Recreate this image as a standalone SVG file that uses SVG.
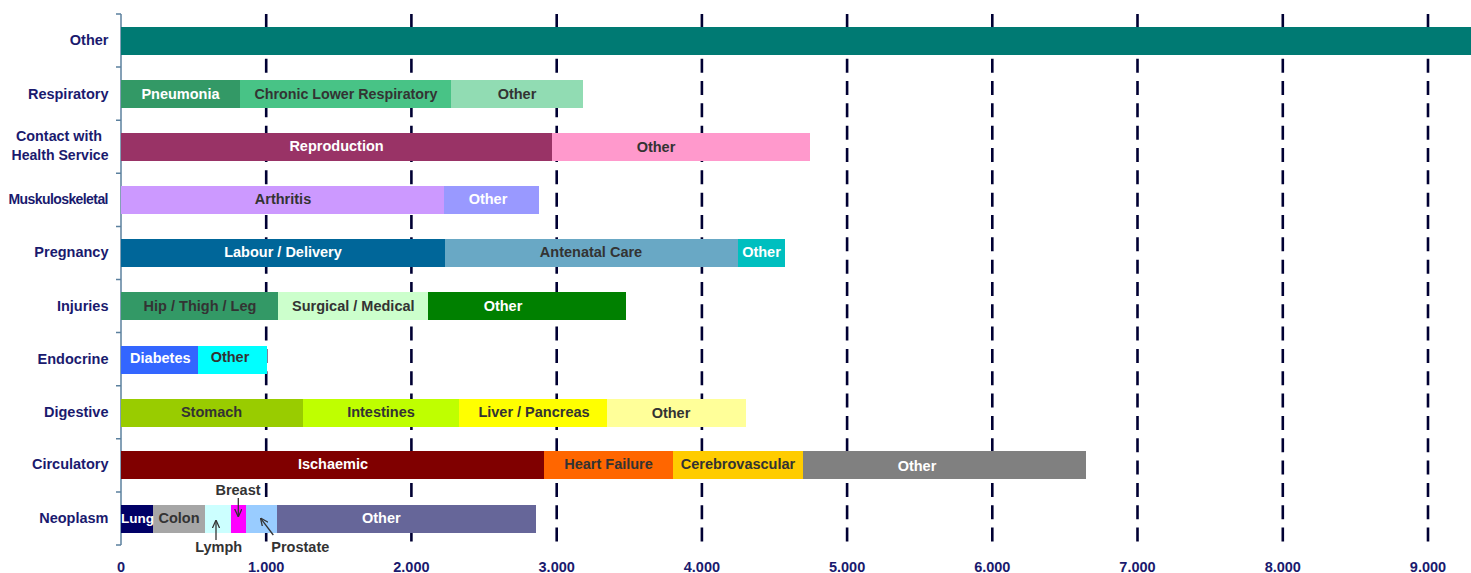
<svg xmlns="http://www.w3.org/2000/svg" width="1471" height="573" viewBox="0 0 1471 573">
<defs>
<style>
text{font-family:"Liberation Sans",Arial,sans-serif;font-weight:bold;font-size:14.5px}
.cat{fill:#1a1a6e;text-anchor:end}
.catm{fill:#1a1a6e;text-anchor:middle}
.ax{fill:#1a1a6e;text-anchor:middle}
.w{fill:#ffffff;text-anchor:middle}
.d{fill:#333333;text-anchor:middle}
.an{fill:#333333;text-anchor:middle}
.grid{stroke:#000033;stroke-width:2.6;stroke-dasharray:14 8.33;fill:none}
.axis{stroke:#5b809e;stroke-width:1.5;fill:none}
.arrow{stroke:#333333;stroke-width:1.3;fill:none;marker-end:url(#ah)}
</style>
<marker id="ah" viewBox="0 0 10 10" refX="9.5" refY="5" markerWidth="8" markerHeight="8" markerUnits="userSpaceOnUse" orient="auto">
<path d="M0,0.5 L10,5 L0,9.5" fill="none" stroke="#333333" stroke-width="1.6"/>
</marker>
</defs>
<rect width="1471" height="573" fill="#ffffff"/>
<g id="gridlines">
<line class="grid" x1="266.2" y1="14" x2="266.2" y2="545"/>
<line class="grid" x1="411.4" y1="14" x2="411.4" y2="545"/>
<line class="grid" x1="556.7" y1="14" x2="556.7" y2="545"/>
<line class="grid" x1="701.9" y1="14" x2="701.9" y2="545"/>
<line class="grid" x1="847.1" y1="14" x2="847.1" y2="545"/>
<line class="grid" x1="992.3" y1="14" x2="992.3" y2="545"/>
<line class="grid" x1="1137.5" y1="14" x2="1137.5" y2="545"/>
<line class="grid" x1="1282.8" y1="14" x2="1282.8" y2="545"/>
<line class="grid" x1="1428" y1="14" x2="1428" y2="545"/>
</g>
<g id="axis">
<line class="axis" x1="121" y1="14" x2="121" y2="545"/>
<path class="axis" d="M116,14H121M116,67.1H121M116,120.2H121M116,173.3H121M116,226.4H121M116,279.5H121M116,332.6H121M116,385.7H121M116,438.8H121M116,491.9H121M116,545H121"/>
<text class="ax" x="121" y="571.5">0</text>
<text class="ax" x="266.2" y="571.5">1.000</text>
<text class="ax" x="411.4" y="571.5">2.000</text>
<text class="ax" x="556.7" y="571.5">3.000</text>
<text class="ax" x="701.9" y="571.5">4.000</text>
<text class="ax" x="847.1" y="571.5">5.000</text>
<text class="ax" x="992.3" y="571.5">6.000</text>
<text class="ax" x="1137.5" y="571.5">7.000</text>
<text class="ax" x="1282.8" y="571.5">8.000</text>
<text class="ax" x="1428" y="571.5">9.000</text>
</g>
<g id="row-other">
<text class="cat" x="108.5" y="45">Other</text>
<rect x="121" y="27" width="1350" height="28" fill="#007a73"/>
</g>
<g id="row-respiratory">
<text class="cat" x="108.5" y="98.5">Respiratory</text>
<rect x="121" y="80" width="119" height="28" fill="#339966"/>
<rect x="240" y="80" width="211" height="28" fill="#48c386"/>
<rect x="451" y="80" width="132" height="28" fill="#91dcb3"/>
<text class="w" x="180.5" y="98.5">Pneumonia</text>
<text class="d" x="346" y="98.5" textLength="183" lengthAdjust="spacingAndGlyphs">Chronic Lower Respiratory</text>
<text class="d" x="517" y="98.5">Other</text>
</g>
<g id="row-contact">
<text class="catm" x="59" y="140.7" textLength="86" lengthAdjust="spacingAndGlyphs">Contact with</text>
<text class="catm" x="60" y="160.2" textLength="97" lengthAdjust="spacingAndGlyphs">Health Service</text>
<rect x="121" y="133" width="431" height="28" fill="#993366"/>
<rect x="552" y="133" width="258" height="28" fill="#ff99cc"/>
<text class="w" x="336.5" y="151">Reproduction</text>
<text class="d" x="656" y="152.3">Other</text>
</g>
<g id="row-musculoskeletal">
<text class="cat" x="108.5" y="204" style="font-size:14px" textLength="100" lengthAdjust="spacing">Muskuloskeletal</text>
<rect x="121" y="186" width="323" height="28" fill="#cc99ff"/>
<rect x="444" y="186" width="95" height="28" fill="#9999ff"/>
<text class="d" x="283" y="204">Arthritis</text>
<text class="w" x="488" y="204">Other</text>
</g>
<g id="row-pregnancy">
<text class="cat" x="108.5" y="257">Pregnancy</text>
<rect x="121" y="239" width="324" height="28" fill="#006699"/>
<rect x="445" y="239" width="293" height="28" fill="#69a8c5"/>
<rect x="738" y="239" width="47" height="28" fill="#00bfbf"/>
<text class="w" x="283" y="257">Labour / Delivery</text>
<text class="d" x="591" y="256.7">Antenatal Care</text>
<text class="w" x="761.5" y="257.3">Other</text>
</g>
<g id="row-injuries">
<text class="cat" x="108.5" y="310.5">Injuries</text>
<rect x="121" y="292" width="157" height="28" fill="#339966"/>
<rect x="278" y="292" width="150" height="28" fill="#ccffcc"/>
<rect x="428" y="292" width="198" height="28" fill="#008000"/>
<text class="d" x="200" y="310.7">Hip / Thigh / Leg</text>
<text class="d" x="353.3" y="310.7">Surgical / Medical</text>
<text class="w" x="503" y="310.7">Other</text>
</g>
<g id="row-endocrine">
<text class="cat" x="108.5" y="364">Endocrine</text>
<rect x="121" y="346" width="77" height="28" fill="#3366ff"/>
<rect x="198" y="346" width="69" height="28" fill="#00ffff"/>
<text class="w" x="160.3" y="363.3">Diabetes</text>
<text class="d" x="230" y="361.7">Other</text>
</g>
<g id="row-digestive">
<text class="cat" x="108.5" y="417">Digestive</text>
<rect x="121" y="399" width="182" height="28" fill="#99cc00"/>
<rect x="303" y="399" width="156" height="28" fill="#bfff00"/>
<rect x="459" y="399" width="148" height="28" fill="#ffff00"/>
<rect x="607" y="399" width="139" height="28" fill="#ffff99"/>
<text class="d" x="211.5" y="416.7">Stomach</text>
<text class="d" x="381" y="416.7">Intestines</text>
<text class="d" x="534" y="416.7">Liver / Pancreas</text>
<text class="d" x="671" y="417.5">Other</text>
</g>
<g id="row-circulatory">
<text class="cat" x="108.5" y="469">Circulatory</text>
<rect x="121" y="451" width="423" height="28" fill="#800000"/>
<rect x="544" y="451" width="129" height="28" fill="#ff6600"/>
<rect x="673" y="451" width="130" height="28" fill="#ffcc00"/>
<rect x="803" y="451" width="283" height="28" fill="#808080"/>
<text class="w" x="333" y="469">Ischaemic</text>
<text class="d" x="608.5" y="468.5">Heart Failure</text>
<text class="d" x="738" y="468.5">Cerebrovascular</text>
<text class="w" x="917" y="470.7">Other</text>
</g>
<g id="row-neoplasm">
<text class="cat" x="108.5" y="523">Neoplasm</text>
<rect x="121" y="505" width="32" height="28" fill="#000066"/>
<rect x="153" y="505" width="52" height="28" fill="#a6a6a6"/>
<rect x="205" y="505" width="26" height="28" fill="#ccffff"/>
<rect x="231" y="505" width="15" height="28" fill="#ff00ff"/>
<rect x="246" y="505" width="31" height="28" fill="#99ccff"/>
<rect x="277" y="505" width="259" height="28" fill="#666699"/>
<text class="w" x="137.5" y="522.7" style="font-size:13.5px">Lung</text>
<text class="d" x="179" y="522.7">Colon</text>
<text class="w" x="381.3" y="522.7">Other</text>
<text class="an" x="238" y="495">Breast</text>
<text class="an" x="218.7" y="551.5">Lymph</text>
<text class="an" x="300.3" y="552.3">Prostate</text>
</g>
<g id="connectors">
<line class="arrow" x1="238.3" y1="498" x2="238.3" y2="516.5"/>
<line class="arrow" x1="216" y1="540" x2="216" y2="520.5"/>
<line class="arrow" x1="273.3" y1="535" x2="260.7" y2="518.3"/>
</g>
</svg>
